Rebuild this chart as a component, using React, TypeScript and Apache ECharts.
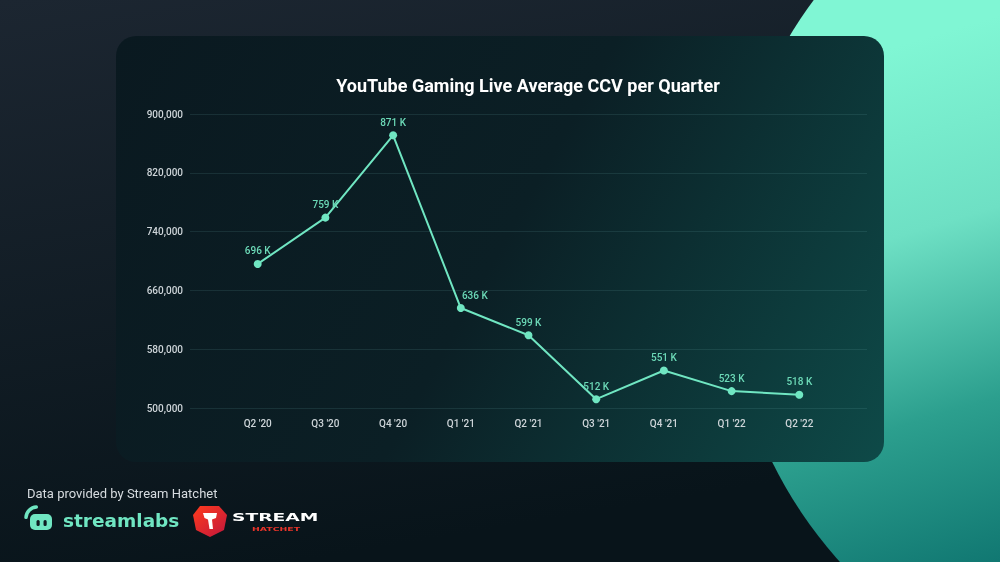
import { useEffect, useRef } from "react";
import * as echarts from "echarts";

const quarters = ["Q2 '20", "Q3 '20", "Q4 '20", "Q1 '21", "Q2 '21", "Q3 '21", "Q4 '21", "Q1 '22", "Q2 '22"];
const averageCcv = [696000, 759000, 871000, 636000, 599000, 512000, 551000, 523000, 518000];
const yMin = 500000;
const yMax = 900000;
const yStep = 80000;
const chartTitle = "YouTube Gaming Live Average CCV per Quarter";
const sourceNote = "Data provided by Stream Hatchet";

const MINT = "#70e6c2";
const LABEL_MINT = "#6cd9b7";
const AXIS_TEXT = "#cdd4d8";

export default function App() {
  const ref = useRef<HTMLDivElement>(null);

  useEffect(() => {
    const chart = echarts.init(ref.current as HTMLDivElement, null, { renderer: "svg", width: 1000, height: 562 });

    const categories = ["", ...quarters, ""];
    const seriesData: any[] = [null];
    averageCcv.forEach((v, i) => {
      if (i === 3) {
        seriesData.push({ value: v, label: { offset: [14, 0] } });
      } else {
        seriesData.push(v);
      }
    });
    seriesData.push(null);

    const option: any = {
      animation: false,
      backgroundColor: "transparent",
      textStyle: { fontFamily: "Roboto" },
      grid: { left: 190, right: 133, top: 114, bottom: 154, containLabel: false },
      xAxis: {
        type: "category",
        data: categories,
        boundaryGap: false,
        axisLine: { show: false },
        axisTick: { show: false },
        splitLine: { show: false },
        axisLabel: { color: AXIS_TEXT, fontSize: 10, fontWeight: 500, margin: 10, fontFamily: "Roboto" },
      },
      yAxis: {
        type: "value",
        min: yMin,
        max: yMax,
        interval: yStep,
        axisLine: { show: false },
        axisTick: { show: false },
        splitLine: { show: true, lineStyle: { color: "rgba(120,190,190,0.13)", width: 1 } },
        axisLabel: {
          color: AXIS_TEXT,
          fontSize: 10,
          fontWeight: 500,
          margin: 7,
          fontFamily: "Roboto",
          formatter: (v: number) => v.toLocaleString("en-US"),
        },
      },
      series: [
        {
          type: "line",
          data: seriesData,
          symbol: "circle",
          symbolSize: 8,
          itemStyle: { color: MINT },
          lineStyle: { color: MINT, width: 2 },
          label: {
            show: true,
            position: "top",
            distance: 4,
            color: LABEL_MINT,
            fontSize: 10,
            fontWeight: 500,
            fontFamily: "Roboto",
            formatter: (p: any) => Math.round(p.value / 1000) + " K",
          },
          z: 5,
        },
      ],
      graphic: [
        {
          type: "rect",
          z: -30,
          silent: true,
          shape: { x: 0, y: 0, width: 1000, height: 562 },
          style: {
            fill: new echarts.graphic.LinearGradient(0, 0, 0.3, 1, [
              { offset: 0, color: "#1c2631" },
              { offset: 1, color: "#08141a" },
            ]),
          },
        },
        {
          type: "circle",
          z: -29,
          silent: true,
          shape: { cx: 1170, cy: 265, r: 444 },
          style: {
            fill: new echarts.graphic.LinearGradient(850, 60, 1000, 560, [
              { offset: 0, color: "#80f6d4" },
              { offset: 0.35, color: "#6ee0c4" },
              { offset: 0.7, color: "#2c9f8e" },
              { offset: 1, color: "#117872" },
            ], true),
          },
        },
        {
          type: "rect",
          z: -28,
          silent: true,
          shape: { x: 116, y: 36, width: 768, height: 426, r: 20 },
          style: {
            fill: new echarts.graphic.LinearGradient(116, 36, 884, 462, [
              { offset: 0, color: "#0a1920" },
              { offset: 0.5, color: "#0b1f25" },
              { offset: 1, color: "#0e4a48" },
            ], true),
          },
        },
        {
          type: "text",
          z: 10,
          x: 528,
          y: 85,
          style: {
            text: chartTitle,
            fill: "#ffffff",
            fontSize: 18,
            fontWeight: 700,
            fontFamily: "Roboto",
            textAlign: "center",
            textVerticalAlign: "middle",
          },
        },
        {
          type: "text",
          z: 10,
          x: 27,
          y: 493,
          style: {
            text: sourceNote,
            fill: "#d6dbdf",
            fontSize: 13,
            fontFamily: "Roboto",
            textAlign: "left",
            textVerticalAlign: "middle",
          },
        },
        // streamlabs icon
        {
          type: "arc",
          z: 10,
          shape: { cx: 37, cy: 518, r: 11, startAngle: Math.PI * 1.02, endAngle: Math.PI * 1.48, clockwise: true },
          style: { stroke: MINT, lineWidth: 3.5, lineCap: "round", fill: "none" },
        },
        {
          type: "rect",
          z: 10,
          shape: { x: 30, y: 514, width: 22, height: 16, r: 5 },
          style: { fill: MINT },
        },
        {
          type: "rect",
          z: 11,
          shape: { x: 36.5, y: 520, width: 3.2, height: 6, r: 1.5 },
          style: { fill: "#0e1b21" },
        },
        {
          type: "rect",
          z: 11,
          shape: { x: 43.5, y: 520, width: 3.2, height: 6, r: 1.5 },
          style: { fill: "#0e1b21" },
        },
        {
          type: "text",
          z: 10,
          x: 63,
          y: 520,
          style: {
            text: "streamlabs",
            fill: MINT,
            fontSize: 18.5,
            fontWeight: 700,
            fontFamily: "DejaVu Sans",
            textAlign: "left",
            textVerticalAlign: "middle",
          },
        },
        // stream hatchet shield
        {
          type: "polygon",
          z: 10,
          shape: {
            points: [
              [200, 506],
              [219, 506],
              [227, 515],
              [224, 530],
              [210, 537],
              [196, 530],
              [193, 515],
            ],
          },
          style: {
            fill: new echarts.graphic.LinearGradient(0, 0, 1, 1, [
              { offset: 0, color: "#ff3b1e" },
              { offset: 1, color: "#c0163c" },
            ]),
          },
        },
        {
          type: "polygon",
          z: 11,
          shape: {
            points: [
              [203, 513],
              [217, 513],
              [216, 518],
              [212, 519.5],
              [213, 529],
              [209.5, 529],
              [208, 519.5],
              [204.5, 518],
            ],
          },
          style: { fill: "#ffffff" },
        },
        {
          type: "text",
          z: 10,
          x: 232,
          y: 517,
          scaleX: 1.7,
          style: {
            text: "STREAM",
            fill: "#ffffff",
            fontSize: 11,
            fontWeight: 700,
            fontFamily: "DejaVu Sans",
            textAlign: "left",
            textVerticalAlign: "middle",
          },
        },
        {
          type: "text",
          z: 10,
          x: 252,
          y: 529,
          scaleX: 1.7,
          style: {
            text: "HATCHET",
            fill: "#e8342a",
            fontSize: 5.5,
            fontWeight: 700,
            fontFamily: "DejaVu Sans",
            textAlign: "left",
            textVerticalAlign: "middle",
          },
        },
      ],
    };

    chart.setOption(option);
    return () => chart.dispose();
  }, []);

  return (
    <div
      ref={ref}
      style={{ position: "fixed", left: 0, top: 0, width: 1000, height: 562, overflow: "hidden" }}
    />
  );
}
